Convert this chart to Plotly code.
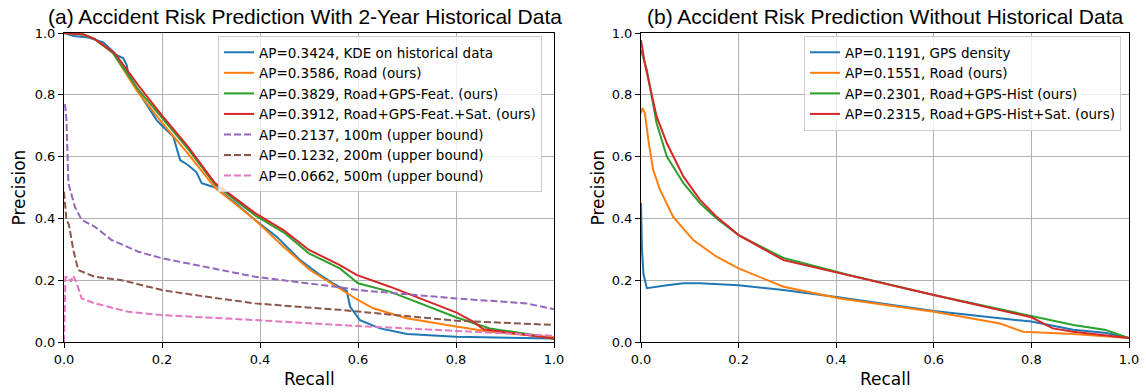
import plotly.graph_objects as go

# ---------------- Data: (a) with 2-year historical data ----------------
kde_recall = [0, 0.02, 0.05, 0.08, 0.10, 0.106, 0.121, 0.128, 0.131, 0.15, 0.17, 0.189, 0.2, 0.223,
              0.237, 0.253, 0.27, 0.281, 0.308, 0.35, 0.39, 0.434, 0.482, 0.52, 0.549, 0.577,
              0.584, 0.604, 0.645, 0.70, 0.80, 0.90, 1.0]
kde_prec = [1.0, 0.99, 0.985, 0.97, 0.94, 0.93, 0.918, 0.896, 0.87, 0.815, 0.765, 0.718, 0.70, 0.665,
            0.589, 0.573, 0.55, 0.514, 0.50, 0.45, 0.395, 0.341, 0.265, 0.22, 0.19, 0.165,
            0.114, 0.071, 0.044, 0.026, 0.017, 0.014, 0.011]

roadA_recall = [0, 0.04, 0.063, 0.1, 0.15, 0.2, 0.253, 0.308, 0.39, 0.448, 0.502, 0.556, 0.6,
                0.631, 0.699, 0.8, 0.869, 1.0]
roadA_prec = [1.0, 0.995, 0.98, 0.935, 0.81, 0.71, 0.61, 0.50, 0.395, 0.308, 0.233, 0.179, 0.136,
              0.109, 0.077, 0.05, 0.033, 0.015]

gpsA_recall = [0, 0.04, 0.063, 0.1, 0.15, 0.2, 0.253, 0.308, 0.39, 0.448, 0.5, 0.563, 0.6, 0.665,
               0.8, 0.869, 0.958, 1.0]
gpsA_prec = [1.0, 0.995, 0.98, 0.935, 0.82, 0.725, 0.625, 0.51, 0.41, 0.355, 0.287, 0.238, 0.19,
             0.163, 0.08, 0.044, 0.023, 0.01]

satA_recall = [0, 0.04, 0.063, 0.104, 0.152, 0.199, 0.253, 0.308, 0.39, 0.448, 0.5, 0.563, 0.597,
               0.665, 0.8, 0.835, 0.856, 0.937, 1.0]
satA_prec = [1.0, 0.995, 0.98, 0.934, 0.83, 0.735, 0.632, 0.514, 0.417, 0.362, 0.298, 0.249, 0.217,
             0.179, 0.096, 0.066, 0.041, 0.023, 0.011]

m100_recall = [0.002, 0.005, 0.009, 0.022, 0.036, 0.063, 0.097, 0.152, 0.2, 0.288, 0.39, 0.563,
               0.6, 0.8, 0.944, 1.0]
m100_prec = [0.77, 0.72, 0.514, 0.438, 0.395, 0.373, 0.33, 0.292, 0.271, 0.244, 0.211, 0.177,
             0.168, 0.141, 0.125, 0.106]

m200_recall = [0, 0.003, 0.005, 0.01, 0.019, 0.029, 0.063, 0.118, 0.2, 0.288, 0.39, 0.563, 0.8, 1.0]
m200_prec = [0.486, 0.44, 0.395, 0.38, 0.298, 0.233, 0.211, 0.2, 0.168, 0.147, 0.125, 0.104, 0.069, 0.055]

m500_recall = [0, 0.003, 0.009, 0.014, 0.019, 0.026, 0.036, 0.063, 0.131, 0.2, 0.39, 0.563, 0.8, 1.0]
m500_prec = [0.0, 0.21, 0.21, 0.195, 0.215, 0.19, 0.141, 0.125, 0.098, 0.087, 0.071, 0.055, 0.036, 0.02]

# ---------------- Data: (b) without historical data ----------------
gpsd_recall = [0, 0.002, 0.005, 0.012, 0.053, 0.087, 0.121, 0.2, 0.292, 0.408, 0.6, 0.8, 0.886, 0.954, 1.0]
gpsd_prec = [0.45, 0.3, 0.22, 0.174, 0.184, 0.19, 0.19, 0.184, 0.168, 0.144, 0.1, 0.066, 0.04, 0.029, 0.013]

roadB_recall = [0, 0.003, 0.008, 0.015, 0.025, 0.039, 0.066, 0.107, 0.155, 0.2, 0.292, 0.408,
                0.6, 0.736, 0.783, 0.886, 1.0]
roadB_prec = [0.74, 0.757, 0.74, 0.654, 0.557, 0.492, 0.405, 0.33, 0.276, 0.238, 0.179, 0.141,
              0.098, 0.06, 0.033, 0.026, 0.013]

gpsB_recall = [0, 0.012, 0.032, 0.053, 0.087, 0.121, 0.155, 0.2, 0.292, 0.428, 0.6, 0.8, 0.886, 0.95, 1.0]
gpsB_prec = [0.945, 0.88, 0.708, 0.60, 0.514, 0.449, 0.40, 0.346, 0.272, 0.216, 0.152, 0.085, 0.055, 0.04, 0.013]

satB_recall = [0, 0.008, 0.032, 0.053, 0.087, 0.121, 0.155, 0.2, 0.292, 0.428, 0.6, 0.8, 0.844, 0.886, 1.0]
satB_prec = [0.977, 0.90, 0.73, 0.643, 0.535, 0.46, 0.405, 0.346, 0.265, 0.214, 0.152, 0.08, 0.044, 0.033, 0.013]

names_a = ["AP=0.3424, KDE on historical data", "AP=0.3586, Road (ours)",
           "AP=0.3829, Road+GPS-Feat. (ours)", "AP=0.3912, Road+GPS-Feat.+Sat. (ours)",
           "AP=0.2137, 100m (upper bound)", "AP=0.1232, 200m (upper bound)",
           "AP=0.0662, 500m (upper bound)"]
names_b = ["AP=0.1191, GPS density", "AP=0.1551, Road (ours)",
           "AP=0.2301, Road+GPS-Hist (ours)", "AP=0.2315, Road+GPS-Hist+Sat. (ours)"]
tick_vals = [0, 0.2, 0.4, 0.6, 0.8, 1.0]
tick_text = ["0.0", "0.2", "0.4", "0.6", "0.8", "1.0"]

colors = ["#1f77b4", "#ff7f0e", "#2ca02c", "#d62728", "#9467bd", "#8c564b", "#e377c2"]

W, H = 1146, 392
fig = go.Figure()

series_a = [(kde_recall, kde_prec), (roadA_recall, roadA_prec), (gpsA_recall, gpsA_prec),
            (satA_recall, satA_prec), (m100_recall, m100_prec), (m200_recall, m200_prec),
            (m500_recall, m500_prec)]
for i, (r, p) in enumerate(series_a):
    fig.add_trace(go.Scatter(x=r, y=p, mode="lines", name=names_a[i],
                             line=dict(color=colors[i], width=2,
                                       dash="7px,3px" if i >= 4 else "solid"),
                             xaxis="x", yaxis="y", legend="legend"))

series_b = [(gpsd_recall, gpsd_prec), (roadB_recall, roadB_prec), (gpsB_recall, gpsB_prec),
            (satB_recall, satB_prec)]
for i, (r, p) in enumerate(series_b):
    fig.add_trace(go.Scatter(x=r, y=p, mode="lines", name=names_b[i],
                             line=dict(color=colors[i], width=2),
                             xaxis="x2", yaxis="y2", legend="legend2"))

# pixel-based layout (screen pixels of the reference)
lx0, lx1 = 64, 554
rx0, rx1 = 641, 1129
ytop, ybot = 33, 342


def px(x):
    return x / W


def py(y):
    return (H - y) / H


axis_common = dict(range=[0, 1], tickvals=tick_vals, ticktext=tick_text, showgrid=True,
                   gridcolor="#b0b0b0", gridwidth=1, showline=True, linecolor="black",
                   linewidth=1, mirror=True, ticks="outside", ticklen=5, tickcolor="black",
                   tickfont=dict(family="DejaVu Sans", size=13, color="black"),
                   zeroline=False, fixedrange=True, automargin=False)

legend_common = dict(bgcolor="rgba(255,255,255,0.8)", bordercolor="#cccccc", borderwidth=1,
                     font=dict(family="DejaVu Sans", size=13.5, color="black"),
                     xanchor="left", yanchor="top", tracegroupgap=0)

fig.update_layout(
    width=W, height=H, margin=dict(l=0, r=0, t=0, b=0, autoexpand=False),
    paper_bgcolor="white", plot_bgcolor="white", showlegend=True,
    xaxis=dict(domain=[px(lx0), px(lx1)], anchor="y", **axis_common),
    yaxis=dict(domain=[py(ybot), py(ytop)], anchor="x", **axis_common),
    xaxis2=dict(domain=[px(rx0), px(rx1)], anchor="y2", **axis_common),
    yaxis2=dict(domain=[py(ybot), py(ytop)], anchor="x2", **axis_common),
    legend=dict(x=px(218), y=py(36), **legend_common),
    legend2=dict(x=px(804), y=py(36), **legend_common),
)

title_font = dict(family="Liberation Sans", size=21, color="black")
label_font = dict(family="DejaVu Sans", size=17, color="black")
annots = [
    dict(text="(a) Accident Risk Prediction With 2-Year Historical Data", x=px((lx0 + lx1) / 2 - 4),
         y=py(16), font=title_font),
    dict(text="(b) Accident Risk Prediction Without Historical Data", x=px((rx0 + rx1) / 2),
         y=py(16), font=title_font),
    dict(text="Recall", x=px((lx0 + lx1) / 2), y=py(379), font=label_font),
    dict(text="Recall", x=px((rx0 + rx1) / 2), y=py(379), font=label_font),
    dict(text="Precision", x=px(18), y=py((ytop + ybot) / 2), font=label_font, textangle=-90),
    dict(text="Precision", x=px(597), y=py((ytop + ybot) / 2), font=label_font, textangle=-90),
]
for a in annots:
    fig.add_annotation(xref="paper", yref="paper", showarrow=False, xanchor="center",
                       yanchor="middle", **a)

fig.write_html("out.html", config={"displayModeBar": False},
               post_script="document.body.style.margin='0px';")
